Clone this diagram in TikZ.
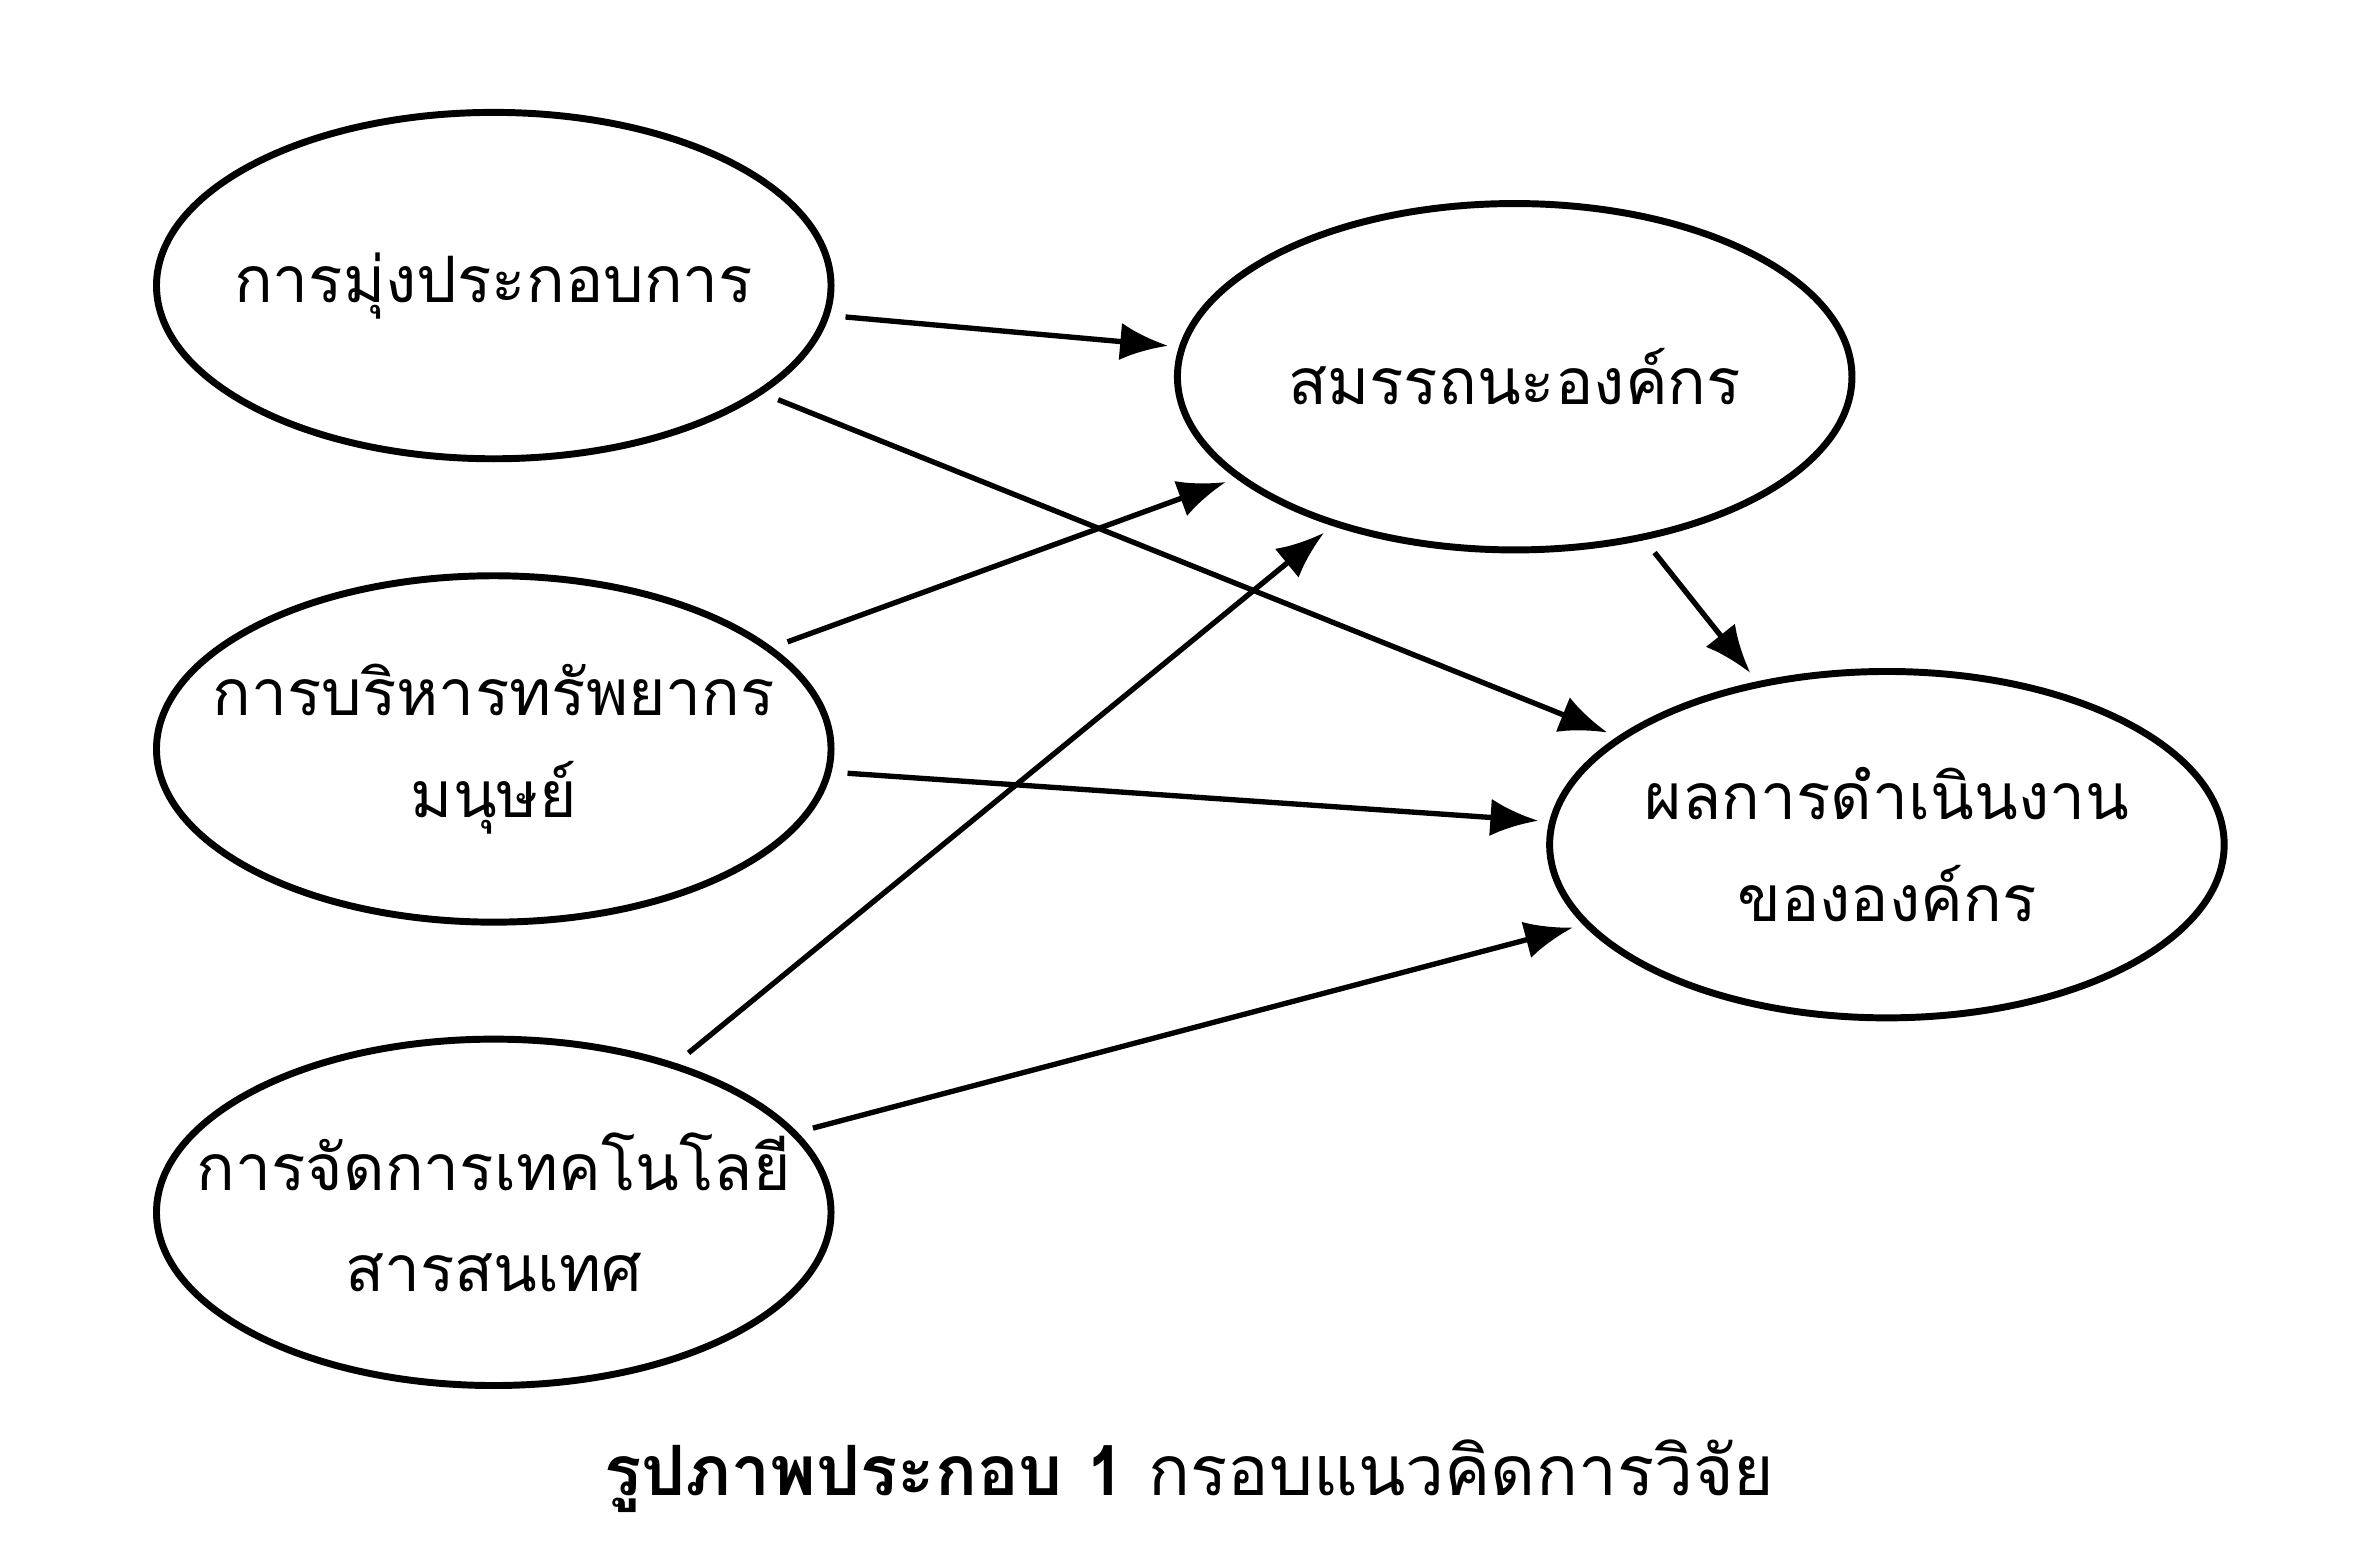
\documentclass[tikz,border=0pt]{standalone}
\usepackage{fontspec}
\newfontfamily\thaifont[Script=Thai]{Loma}
\usetikzlibrary{shapes.geometric,arrows.meta}
\begin{document}
\begin{tikzpicture}[
    var/.style={draw, ellipse, line width=1.3pt, minimum width=4.44cm, minimum height=2.28cm, inner sep=0pt},
    txt/.style={align=center, font=\thaifont\fontsize{12}{19}\selectfont},
    path/.style={-{Latex[length=9pt,width=7pt]}, line width=1pt, shorten >=2pt, shorten <=3pt}]
  \useasboundingbox (0,0) rectangle (15.6,10.315);
  \node[var] (EO) at (3.25,8.435) {};
  \node[var] (HR) at (3.25,5.385) {};
  \node[var] (IT) at (3.25,2.335) {};
  \node[var] (OC) at (9.97,7.835) {};
  \node[var] (OP) at (12.42,4.755) {};
  \node[txt] (EOtxt) at (EO) {การมุ่งประกอบการ};
  \node[txt] (HRtxt) at (HR) {การบริหารทรัพยากร\\มนุษย์};
  \node[txt] (ITtxt) at (IT) {การจัดการเทคโนโลยี\\สารสนเทศ};
  \node[txt] (OCtxt) at (OC) {สมรรถนะองค์กร};
  \node[txt] (OPtxt) at (OP) {ผลการดำเนินงาน\\ขององค์กร};
  \draw[path] (EO) -- (OC);
  \draw[path] (EO) -- (OP);
  \draw[path] (HR) -- (OC);
  \draw[path] (HR) -- (OP);
  \draw[path] (IT) -- (OC);
  \draw[path] (IT) -- (OP);
  \draw[path] (OC) -- (OP);
  \node[font=\thaifont\fontsize{13}{18}\selectfont] (cap) at (7.83,0.6) {\textbf{รูปภาพประกอบ 1} กรอบแนวคิดการวิจัย};
\end{tikzpicture}
\end{document}
